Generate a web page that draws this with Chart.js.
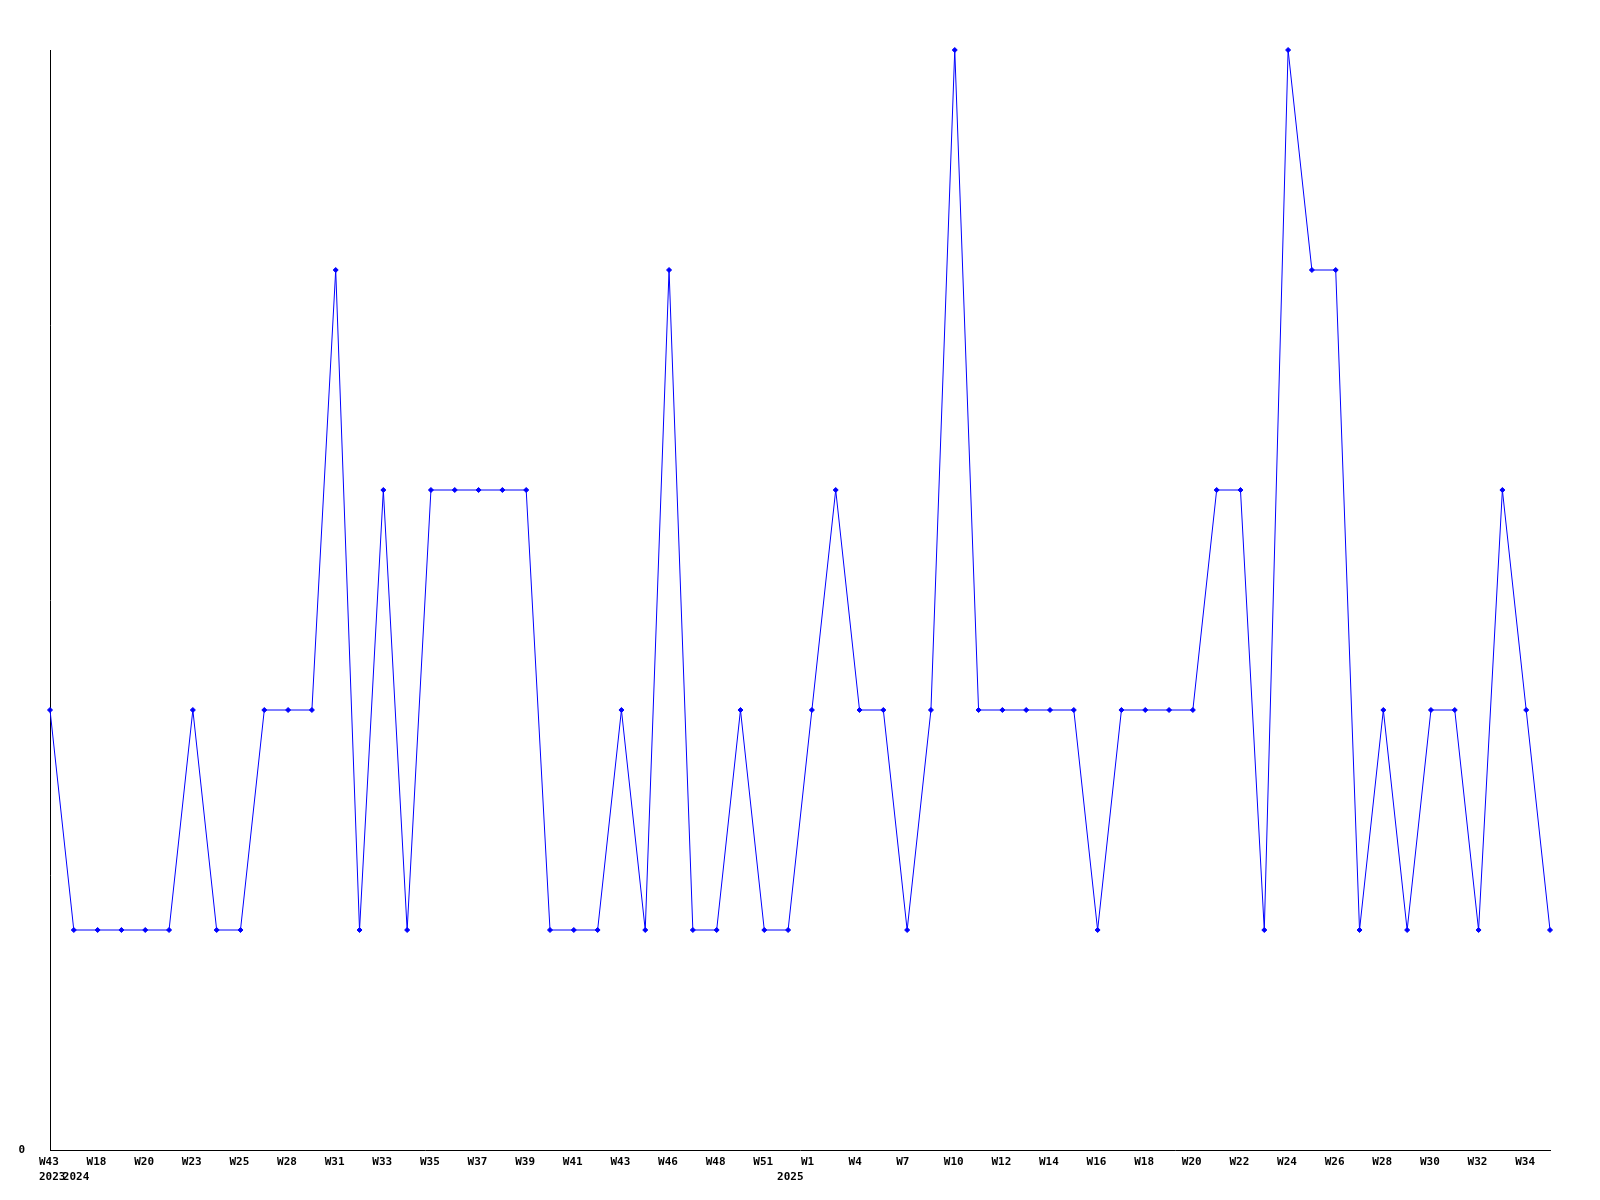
<!DOCTYPE html>
<html>
<head>
<meta charset="utf-8">
<script src="https://cdn.jsdelivr.net/npm/chart.js@4"></script>
<style>
html,body{margin:0;padding:0;background:#fff;}
canvas{display:block;}
</style>
</head>
<body>
<canvas id="c" width="1600" height="1200"></canvas>
<script>
const weeks = ['W43','W17','W18','W19','W20','W22','W23','W24','W25','W26','W28','W29','W31','W32','W33','W34','W35','W36','W37','W38','W39','W40','W41','W42','W43','W45','W46','W47','W48','W50','W51','W52','W1','W3','W4','W6','W7','W9','W10','W11','W12','W13','W14','W15','W16','W17','W18','W19','W20','W21','W22','W23','W24','W25','W26','W27','W28','W29','W30','W31','W32','W33','W34','W35'];
const yearLabels = {0:'2023', 1:'2024', 31:'2025'};
const values = [2,1,1,1,1,1,2,1,1,2,2,2,4,1,3,1,3,3,3,3,3,1,1,1,2,1,4,1,1,2,1,1,2,3,2,2,1,2,5,2,2,2,2,2,1,2,2,2,2,3,3,1,5,4,4,1,2,1,2,2,1,3,2,1];
const yTickLabels = ['0'];

const tickFont = {family: 'DejaVu Sans Mono', size: 11, weight: 'bold', lineHeight: 1.36};

new Chart(document.getElementById('c'), {
  type: 'line',
  data: {
    labels: weeks,
    datasets: [{
      data: values,
      borderColor: '#0000ff',
      backgroundColor: '#0000ff',
      borderWidth: 1,
      pointStyle: 'rectRot',
      pointRadius: 2.5,
      pointBorderWidth: 1,
      pointHoverRadius: 2.5,
      tension: 0,
      fill: false,
      clip: false
    }]
  },
  options: {
    responsive: false,
    animation: false,
    devicePixelRatio: 1,
    layout: {padding: {top: 50, right: 50, left: 0, bottom: 0}},
    plugins: {legend: {display: false}, tooltip: {enabled: false}},
    scales: {
      x: {
        offset: false,
        grid: {display: false, drawTicks: false},
        border: {display: true, color: '#000', width: 1},
        afterFit: s => { s.height = 50; },
        ticks: {
          autoSkip: false,
          maxRotation: 0,
          minRotation: 0,
          align: 'start',
          labelOffset: -11,
          padding: 5,
          color: '#000',
          font: tickFont,
          callback: function(v, i) {
            const w = (i % 2 === 0) ? weeks[i] : '';
            const yr = yearLabels[i];
            return yr ? [w, yr] : w;
          }
        }
      },
      y: {
        min: 0,
        max: 5,
        grid: {display: false, drawTicks: false},
        border: {display: true, color: '#000', width: 1},
        afterFit: s => { s.width = 50; },
        ticks: {
          stepSize: 1,
          padding: 25,
          color: '#000',
          font: tickFont,
          callback: v => (v === 0 ? yTickLabels[0] : '')
        }
      }
    }
  }
});
</script>
</body>
</html>
